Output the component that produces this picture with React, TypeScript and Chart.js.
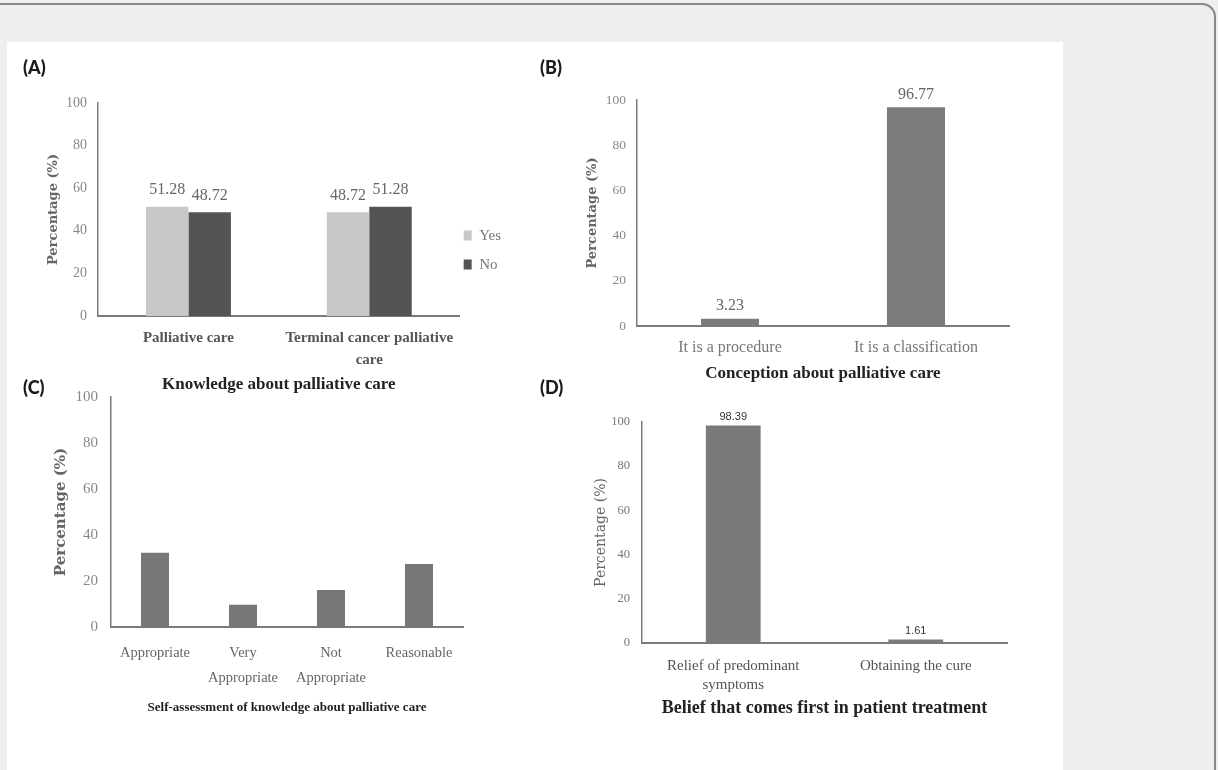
import React, { useEffect, useRef } from 'react';
import { Chart, registerables } from 'chart.js';

Chart.register(...registerables);

const SERIF = "'Liberation Serif', 'Times New Roman', serif";
const WIDE_SERIF = "'DejaVu Serif', serif";
const SANS = "'Liberation Sans', Arial, sans-serif";

// ---------- data ----------
const aCategories = [['Palliative care'], ['Terminal cancer palliative', 'care']];
const aSeries = ['Yes', 'No'];
const aYes = [51.28, 48.72];
const aNo = [48.72, 51.28];
const aTitle = 'Knowledge about palliative care';

const bCategories = ['It is a procedure', 'It is a classification'];
const bValues = [3.23, 96.77];
const bTitle = 'Conception about palliative care';

const cCategories = ['Appropriate', ['Very', 'Appropriate'], ['Not', 'Appropriate'], 'Reasonable'];
const cValues = [32.26, 9.68, 16.13, 27.42];
const cTitle = 'Self-assessment of knowledge about palliative care';

const dCategories = [['Relief of predominant', 'symptoms'], 'Obtaining the cure'];
const dValues = [98.39, 1.61];
const dTitle = 'Belief that comes first in patient treatment';

const yAxisTitle = 'Percentage (%)';
const yMin = 0;
const yMax = 100;
const yStep = 20;
const panelLetters = ['(A)', '(B)', '(C)', '(D)'];

Chart.defaults.font.family = SERIF;

const barLabels = {
  id: 'barLabels',
  afterDatasetsDraw(chart: any, _args: any, opts: any) {
    if (!opts || !opts.display) return;
    const ctx = chart.ctx;
    ctx.save();
    ctx.font = `${opts.weight} ${opts.size}px ${opts.family}`;
    ctx.fillStyle = opts.color;
    ctx.textAlign = 'center';
    ctx.textBaseline = 'middle';
    chart.data.datasets.forEach((ds: any, di: number) => {
      chart.getDatasetMeta(di).data.forEach((el: any, i: number) => {
        ctx.fillText(Number(ds.data[i]).toFixed(2), el.x, el.y - opts.offset);
      });
    });
    ctx.restore();
  },
};

type Box = { left: number; top: number; width: number; height: number };

function makeConfig(s: any) {
  const yTitleLH = s.yTitleSize * 1.2;
  const titleLH = s.titleSize * 1.2;
  const bottomEdge = s.box.top + s.box.height;
  const padLeft = s.yTitleCx - s.box.left - yTitleLH / 2;
  const yWidth = s.area.l - s.box.left - padLeft;
  const padTop = s.area.t - s.box.top;
  const padBottom = bottomEdge - s.titleCy - titleLH / 2;
  const xHeight = bottomEdge - padBottom - titleLH - s.area.b;
  const padRight = s.box.left + s.box.width - s.area.r - (s.legendWidth || 0);
  const xLH = s.xTickSize * s.xTickLine;
  const xPad = s.xFirstCenter - s.area.b - xLH / 2;
  const yPad = s.area.l - s.yTickRight;
  return {
    type: 'bar',
    data: { labels: s.categories, datasets: s.datasets },
    plugins: [barLabels],
    options: {
      responsive: false,
      animation: false,
      devicePixelRatio: 1,
      layout: { padding: { left: padLeft, right: padRight, top: padTop, bottom: padBottom } },
      datasets: { bar: { categoryPercentage: s.barFrac, barPercentage: 1 } },
      scales: {
        x: {
          grid: { display: false, drawTicks: false },
          border: { display: true, color: s.axisColor, width: s.xBorderWidth },
          ticks: {
            font: { family: SERIF, size: s.xTickSize, weight: s.xTickWeight, lineHeight: s.xTickLine },
            color: s.xTickColor,
            padding: xPad,
            maxRotation: 0,
            autoSkip: false,
          },
          afterFit: (sc: any) => {
            sc.height = xHeight;
          },
        },
        y: {
          min: yMin,
          max: yMax,
          grid: { display: false, drawTicks: false },
          border: { display: true, color: s.axisColor, width: s.yBorderWidth },
          ticks: {
            stepSize: yStep,
            font: { family: SERIF, size: s.yTickSize },
            color: s.yTickColor,
            padding: yPad,
          },
          title: {
            display: true,
            text: yAxisTitle,
            font: { family: WIDE_SERIF, size: s.yTitleSize, weight: s.yTitleWeight, lineHeight: 1.2 },
            color: s.yTitleColor,
            padding: 0,
          },
          afterFit: (sc: any) => {
            sc.width = yWidth;
          },
        },
      },
      plugins: {
        legend: s.legend || { display: false },
        tooltip: { enabled: false },
        title: {
          display: true,
          text: s.title,
          position: 'bottom',
          fullSize: false,
          align: 'center',
          color: '#222',
          font: { family: SERIF, size: s.titleSize, weight: 'bold', lineHeight: 1.2 },
          padding: 0,
        },
        barLabels: s.labels ? { display: true, ...s.labels } : { display: false },
      },
    },
  };
}

const specs: any[] = [
  {
    box: { left: 0, top: 40, width: 530, height: 355 },
    area: { l: 98, r: 459, t: 103, b: 316 },
    categories: aCategories,
    datasets: [
      { label: aSeries[0], data: aYes, backgroundColor: '#c8c8c8' },
      { label: aSeries[1], data: aNo, backgroundColor: '#545454' },
    ],
    barFrac: 0.47,
    yTitleSize: 13, yTitleWeight: 'bold', yTitleColor: '#666', yTitleCx: 54,
    yTickSize: 14, yTickColor: '#888', yTickRight: 87,
    xTickSize: 15, xTickWeight: 'bold', xTickColor: '#555', xTickLine: 22 / 15, xFirstCenter: 338,
    title: aTitle, titleSize: 17, titleCy: 385,
    axisColor: '#7a7a7a', xBorderWidth: 2, yBorderWidth: 1.5,
    legendWidth: 52,
    legend: {
      display: true,
      position: 'right',
      fullSize: false,
      title: { display: true, text: ' ', padding: { top: 90, bottom: 0 }, font: { size: 1 } },
      labels: {
        boxWidth: 8,
        boxHeight: 10,
        padding: 4,
        color: '#777',
        font: { family: SERIF, size: 15, lineHeight: '25px' },
        generateLabels: (chart: any) =>
          Chart.defaults.plugins.legend.labels
            .generateLabels(chart)
            .map((l: any) => ({ ...l, text: [l.text], lineWidth: 0 })),
      },
    },
    labels: { size: 16, family: SERIF, weight: 'normal', color: '#666', offset: 16.5 },
  },
  {
    box: { left: 530, top: 40, width: 530, height: 345 },
    area: { l: 637, r: 1009, t: 100, b: 326 },
    categories: bCategories,
    datasets: [{ label: 'B', data: bValues, backgroundColor: '#7b7b7b' }],
    barFrac: 0.312,
    yTitleSize: 13, yTitleWeight: 'bold', yTitleColor: '#666', yTitleCx: 593,
    yTickSize: 13.5, yTickColor: '#888', yTickRight: 626,
    xTickSize: 16, xTickWeight: 'normal', xTickColor: '#777', xTickLine: 1.2, xFirstCenter: 348,
    title: bTitle, titleSize: 17, titleCy: 374,
    axisColor: '#7a7a7a', xBorderWidth: 2, yBorderWidth: 1.5,
    labels: { size: 16, family: SERIF, weight: 'normal', color: '#666', offset: 13 },
  },
  {
    box: { left: 0, top: 375, width: 530, height: 345 },
    area: { l: 111, r: 463, t: 390, b: 627 },
    categories: cCategories,
    datasets: [{ label: 'C', data: cValues, backgroundColor: '#777777' }],
    barFrac: 0.318,
    yTitleSize: 15, yTitleWeight: 'bold', yTitleColor: '#666', yTitleCx: 61,
    yTickSize: 15, yTickColor: '#888', yTickRight: 98,
    xTickSize: 14.5, xTickWeight: 'normal', xTickColor: '#666', xTickLine: 25 / 14.5, xFirstCenter: 653,
    title: cTitle, titleSize: 13, titleCy: 708,
    axisColor: '#7a7a7a', xBorderWidth: 2, yBorderWidth: 1.5,
  },
  {
    box: { left: 530, top: 375, width: 530, height: 345 },
    area: { l: 642, r: 1007, t: 422, b: 643 },
    categories: dCategories,
    datasets: [{ label: 'D', data: dValues, backgroundColor: '#7a7a7a' }],
    barFrac: 0.3,
    yTitleSize: 14, yTitleWeight: 'normal', yTitleColor: '#666', yTitleCx: 601,
    yTickSize: 12.5, yTickColor: '#777', yTickRight: 630,
    xTickSize: 15, xTickWeight: 'normal', xTickColor: '#555', xTickLine: 19 / 15, xFirstCenter: 666,
    title: dTitle, titleSize: 18, titleCy: 708,
    axisColor: '#7a7a7a', xBorderWidth: 2, yBorderWidth: 1.5,
    labels: { size: 11, family: SANS, weight: 'normal', color: '#333', offset: 8.5 },
  },
];

const letterPos = [
  { left: 23, top: 56 },
  { left: 540, top: 56 },
  { left: 23, top: 376 },
  { left: 540, top: 376 },
];

function ChartCanvas({ spec }: { spec: any }) {
  const ref = useRef<HTMLCanvasElement>(null);
  useEffect(() => {
    const chart = new Chart(ref.current as HTMLCanvasElement, makeConfig(spec) as any);
    return () => chart.destroy();
  }, [spec]);
  const b: Box = spec.box;
  return (
    <canvas
      ref={ref}
      width={b.width}
      height={b.height}
      style={{ position: 'absolute', left: b.left, top: b.top, width: b.width, height: b.height }}
    />
  );
}

export default function App() {
  return (
    <div
      style={{
        position: 'fixed',
        left: 0,
        top: 0,
        width: 1218,
        height: 770,
        background: '#eeeeee',
        overflow: 'hidden',
      }}
    >
      <div
        style={{
          position: 'absolute',
          left: -20,
          top: 3,
          width: 1236,
          height: 800,
          boxSizing: 'border-box',
          borderTop: '2px solid #888',
          borderRight: '2px solid #888',
          borderTopRightRadius: 14,
        }}
      />
      <div style={{ position: 'absolute', left: 7, top: 42, width: 1056, height: 740, background: '#ffffff' }} />
      {specs.map((s, i) => (
        <ChartCanvas key={i} spec={s} />
      ))}
      {panelLetters.map((t, i) => (
        <div
          key={t}
          style={{
            position: 'absolute',
            left: letterPos[i].left,
            top: letterPos[i].top,
            font: "900 18px Lato, 'Open Sans', sans-serif",
            lineHeight: '22px',
            color: '#1a1a1a',
          }}
        >
          {t}
        </div>
      ))}
    </div>
  );
}
